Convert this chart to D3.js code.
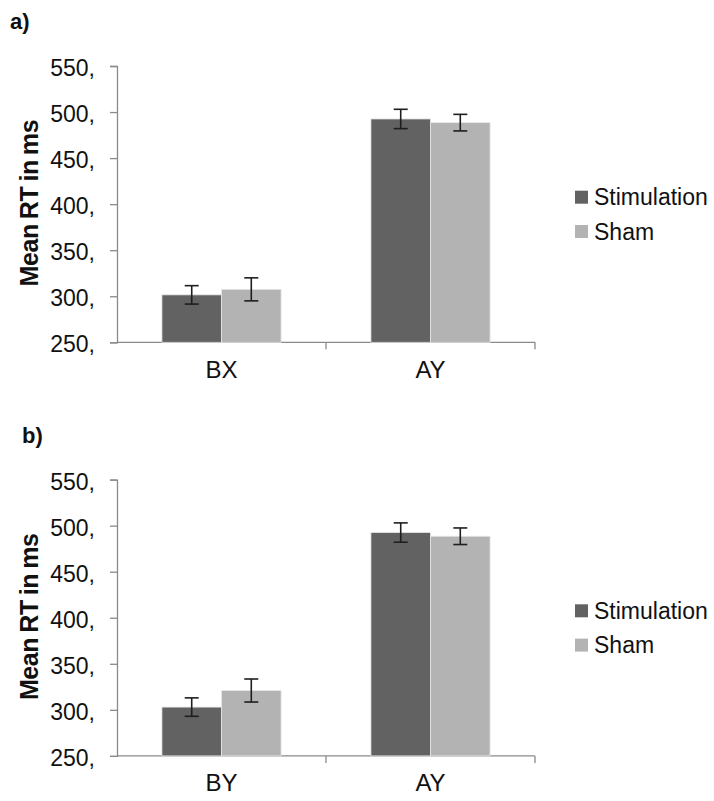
<!DOCTYPE html>
<html>
<head>
<meta charset="utf-8">
<script src="https://cdn.jsdelivr.net/npm/d3@7"></script>
<style>
  html, body { margin: 0; padding: 0; background: #fff; }
  svg { display: block; font-family: "Liberation Sans", Arial, sans-serif; }
</style>
</head>
<body>
<svg id="chart" width="714" height="801"></svg>
<script>
// Mean reaction times (ms) with error bars, two conditions per panel
const seriesNames = ["Stimulation", "Sham"];
const seriesColors = ["#626262", "#b3b3b3"];
const yTicks = [250, 300, 350, 400, 450, 500, 550];

const categoriesA = ["BX", "AY"];
const stimulationA = [301.5, 492.5];
const stimulationErrA = [10, 10.5];
const shamA = [307.5, 488.5];
const shamErrA = [12.5, 9];

const categoriesB = ["BY", "AY"];
const stimulationB = [303, 492.5];
const stimulationErrB = [10, 10.5];
const shamB = [321, 488.5];
const shamErrB = [12.5, 9];

const svg = d3.select("#chart");

function drawPanel(top, panelLabel, labelX, cats, stimVals, stimErr, shamVals, shamErr) {
  const g = svg.append("g").attr("transform", `translate(0,${top})`);
  const plotTop = 66, plotBottom = 342.3, plotLeft = 117, plotRight = 535;

  const y = d3.scaleLinear().domain([250, 550]).range([plotBottom, plotTop]);
  const x0 = d3.scaleBand().domain(cats).range([plotLeft, plotRight]).padding(0);
  const bw = x0.bandwidth();
  const x1 = d3.scaleBand().domain(seriesNames)
    .range([bw * 0.215, bw * 0.785]).padding(0);

  // panel letter
  g.append("text").attr("x", labelX).attr("y", 29)
    .attr("font-size", 22).attr("font-weight", "bold").attr("fill", "#111")
    .text(panelLabel);

  // y axis
  const yAxis = d3.axisLeft(y).tickValues(yTicks).tickSize(7).tickPadding(15)
    .tickFormat(d => d + ",");
  const ya = g.append("g").attr("transform", `translate(${plotLeft},0)`).call(yAxis);
  ya.select(".domain").attr("stroke", "#8a8a8a").attr("stroke-width", 1.3);
  ya.selectAll(".tick line").attr("stroke", "#8a8a8a").attr("stroke-width", 1.3);
  ya.selectAll(".tick text").attr("font-size", 23).attr("fill", "#111")
    .attr("font-family", "'Liberation Sans', Arial, sans-serif")
    .attr("dy", "0.42em");

  // x axis
  const xa = g.append("g").attr("transform", `translate(0,${plotBottom})`);
  xa.append("line").attr("x1", plotLeft).attr("x2", plotRight)
    .attr("stroke", "#8a8a8a").attr("stroke-width", 1.3);
  const bounds = cats.map(c => x0(c) + bw);
  xa.selectAll("line.sep").data(bounds).join("line").attr("class", "sep")
    .attr("x1", d => d).attr("x2", d => d).attr("y1", 0).attr("y2", 7)
    .attr("stroke", "#8a8a8a").attr("stroke-width", 1.3);
  xa.selectAll("text").data(cats).join("text")
    .attr("x", d => x0(d) + bw / 2).attr("y", 35.5)
    .attr("text-anchor", "middle").attr("font-size", 24).attr("fill", "#111")
    .text(d => d);

  // y title
  g.append("text")
    .attr("transform", `translate(38,${(plotTop + plotBottom) / 2 - 1}) rotate(-90)`)
    .attr("text-anchor", "middle").attr("font-size", 25).attr("font-weight", "bold")
    .attr("letter-spacing", -0.4).attr("word-spacing", -1.5).attr("fill", "#111")
    .text("Mean RT in ms");

  // bars
  const rows = cats.map((c, i) => ({
    cat: c,
    vals: [
      { s: seriesNames[0], v: stimVals[i], e: stimErr[i], c: seriesColors[0] },
      { s: seriesNames[1], v: shamVals[i], e: shamErr[i], c: seriesColors[1] }
    ]
  }));
  const grp = g.selectAll("g.grp").data(rows).join("g").attr("class", "grp")
    .attr("transform", d => `translate(${x0(d.cat)},0)`);
  grp.selectAll("rect").data(d => d.vals).join("rect")
    .attr("x", d => x1(d.s)).attr("width", x1.bandwidth())
    .attr("y", d => y(d.v)).attr("height", d => plotBottom - y(d.v))
    .attr("fill", d => d.c).attr("stroke", "#e6e6e6").attr("stroke-width", 0.8);

  // error bars
  const eb = grp.selectAll("g.err").data(d => d.vals).join("g").attr("class", "err");
  const cx = d => x1(d.s) + x1.bandwidth() / 2;
  eb.append("line").attr("x1", cx).attr("x2", cx)
    .attr("y1", d => y(d.v + d.e)).attr("y2", d => y(d.v - d.e))
    .attr("stroke", "#1e1e1e").attr("stroke-width", 1.6);
  [1, -1].forEach(sgn => {
    eb.append("line").attr("x1", d => cx(d) - 7).attr("x2", d => cx(d) + 7)
      .attr("y1", d => y(d.v + sgn * d.e)).attr("y2", d => y(d.v + sgn * d.e))
      .attr("stroke", "#1e1e1e").attr("stroke-width", 1.6);
  });

  // legend
  const lg = g.append("g").attr("transform", "translate(575,190.7)");
  const items = lg.selectAll("g").data(seriesNames).join("g")
    .attr("transform", (d, i) => `translate(0,${i * 34.3})`);
  items.append("rect").attr("width", 13).attr("height", 13)
    .attr("fill", (d, i) => seriesColors[i]);
  items.append("text").attr("x", 19).attr("y", 14.5)
    .attr("font-size", 23).attr("fill", "#111").text(d => d);
}

drawPanel(0, "a)", 10, categoriesA, stimulationA, stimulationErrA, shamA, shamErrA);
drawPanel(413.6, "b)", 22, categoriesB, stimulationB, stimulationErrB, shamB, shamErrB);
</script>
</body>
</html>
